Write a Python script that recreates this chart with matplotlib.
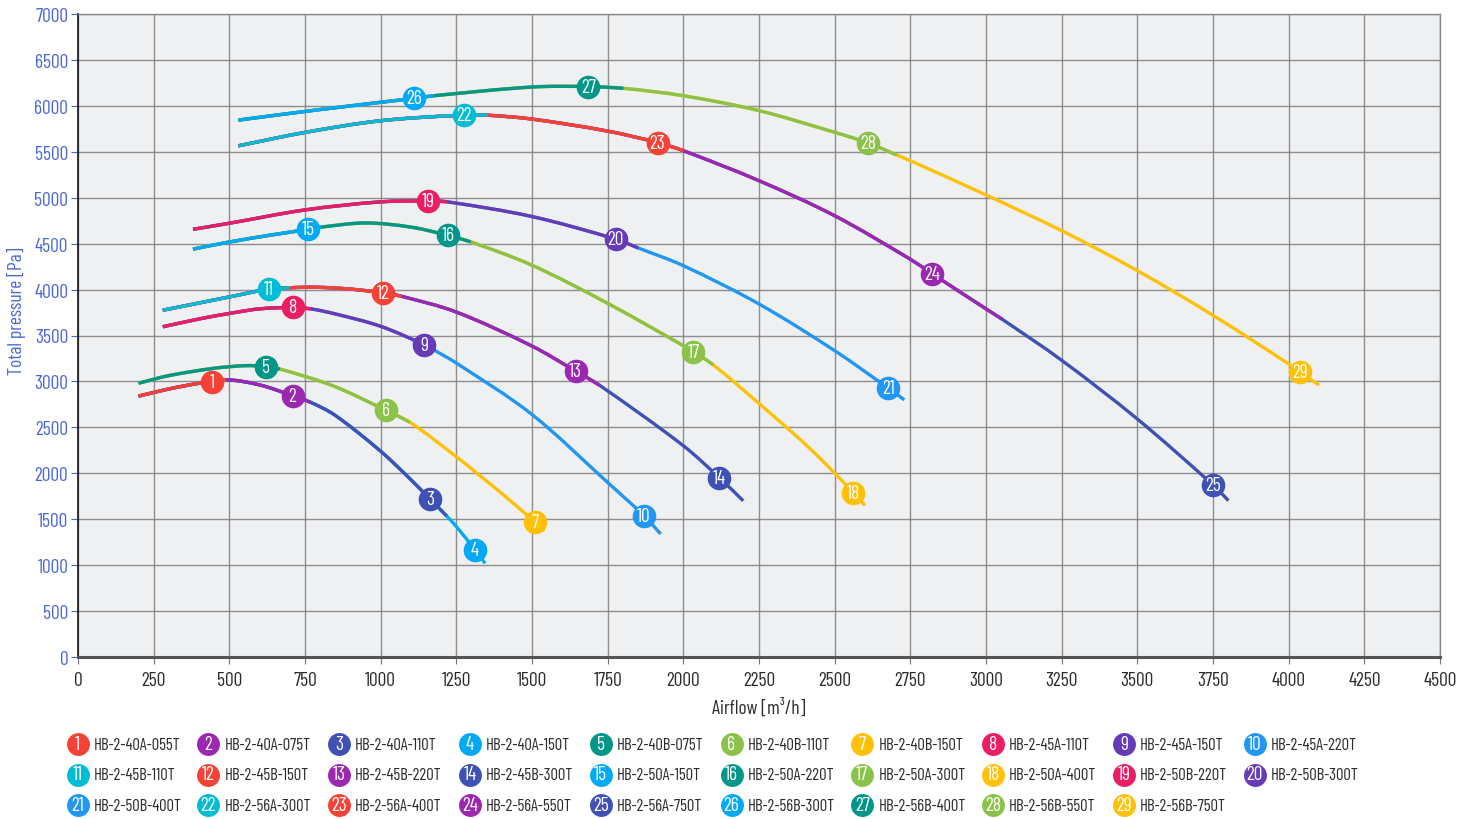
import os
import numpy as np
import matplotlib
matplotlib.use("Agg")
import matplotlib.pyplot as plt
from matplotlib import font_manager
from matplotlib.font_manager import FontProperties
from matplotlib.path import Path
from matplotlib.patches import PathPatch

# ---------------- data ----------------
flow_40A = [200, 300, 400, 490, 600, 709, 767, 850, 1000, 1100, 1163, 1218, 1250, 1311, 1345]
pres_40A = [2840, 2918, 2980, 3018, 2962, 2845, 2775, 2630, 2240, 1930, 1720, 1535, 1420, 1170, 1020]

flow_40B = [200, 300, 450, 557, 620, 667, 844, 1018, 1097, 1250, 1400, 1510, 1540]
pres_40B = [2980, 3063, 3143, 3172, 3160, 3135, 2950, 2685, 2555, 2180, 1780, 1466, 1370]

flow_45A = [280, 400, 500, 600, 711, 769, 850, 1000, 1144, 1180, 1250, 1500, 1750, 1870, 1925]
pres_45A = [3595, 3680, 3740, 3790, 3805, 3790, 3735, 3600, 3400, 3335, 3200, 2640, 1900, 1538, 1339]

flow_45B = [280, 400, 500, 630, 699, 790, 900, 1008, 1070, 1250, 1500, 1644, 1725, 2000, 2119, 2198]
pres_45B = [3775, 3854, 3920, 4005, 4020, 4025, 4005, 3965, 3926, 3755, 3385, 3113, 2954, 2300, 1952, 1700]

flow_50A = [380, 500, 650, 760, 803, 950, 1100, 1222, 1297, 1500, 1750, 2033, 2099, 2250, 2418, 2562, 2600]
pres_50A = [4440, 4518, 4600, 4655, 4680, 4725, 4680, 4590, 4520, 4265, 3850, 3325, 3180, 2760, 2270, 1790, 1650]

flow_50B = [380, 500, 750, 1000, 1158, 1221, 1500, 1776, 1851, 2000, 2250, 2500, 2677, 2730]
pres_50B = [4656, 4722, 4867, 4955, 4965, 4955, 4795, 4550, 4453, 4260, 3843, 3335, 2927, 2800]

flow_56A = [530, 750, 1000, 1274, 1354, 1500, 1750, 1915, 2000, 2250, 2500, 2750, 2823, 3000, 3052, 3250, 3500, 3751, 3801]
pres_56A = [5565, 5711, 5838, 5900, 5898, 5856, 5725, 5600, 5512, 5185, 4804, 4330, 4170, 3790, 3680, 3230, 2591, 1870, 1702]

flow_56B = [530, 800, 1111, 1175, 1500, 1686, 1802, 2000, 2250, 2500, 2611, 2705, 2750, 3000, 3250, 3500, 3750, 4000, 4037, 4101]
pres_56B = [5845, 5960, 6082, 6110, 6205, 6210, 6191, 6110, 5948, 5712, 5596, 5465, 5403, 5030, 4641, 4206, 3720, 3190, 3100, 2960]

model_names = [
    "HB-2-40A-055T", "HB-2-40A-075T", "HB-2-40A-110T", "HB-2-40A-150T",
    "HB-2-40B-075T", "HB-2-40B-110T", "HB-2-40B-150T",
    "HB-2-45A-110T", "HB-2-45A-150T", "HB-2-45A-220T",
    "HB-2-45B-110T", "HB-2-45B-150T", "HB-2-45B-220T", "HB-2-45B-300T",
    "HB-2-50A-150T", "HB-2-50A-220T", "HB-2-50A-300T", "HB-2-50A-400T",
    "HB-2-50B-220T", "HB-2-50B-300T", "HB-2-50B-400T",
    "HB-2-56A-300T", "HB-2-56A-400T", "HB-2-56A-550T", "HB-2-56A-750T",
    "HB-2-56B-300T", "HB-2-56B-400T", "HB-2-56B-550T", "HB-2-56B-750T",
]
model_family = ["40A"] * 4 + ["40B"] * 3 + ["45A"] * 3 + ["45B"] * 4 + ["50A"] * 4 + \
               ["50B"] * 3 + ["56A"] * 4 + ["56B"] * 4
model_end_flow = [490, 767, 1218, 1345,
                  667, 1097, 1540,
                  769, 1180, 1925,
                  699, 1070, 1725, 2198,
                  803, 1297, 2099, 2600,
                  1221, 1851, 2730,
                  1354, 2000, 3052, 3801,
                  1175, 1802, 2705, 4101]
model_mark_flow = [443, 709, 1163, 1311,
                   620, 1018, 1510,
                   711, 1144, 1870,
                   630, 1008, 1644, 2119,
                   760, 1222, 2033, 2562,
                   1158, 1776, 2677,
                   1274, 1915, 2823, 3751,
                   1111, 1686, 2611, 4037]

x_ticks = list(range(0, 4501, 250))
y_ticks = list(range(0, 7001, 500))

families = {
    "40A": (flow_40A, pres_40A), "40B": (flow_40B, pres_40B),
    "45A": (flow_45A, pres_45A), "45B": (flow_45B, pres_45B),
    "50A": (flow_50A, pres_50A), "50B": (flow_50B, pres_50B),
    "56A": (flow_56A, pres_56A), "56B": (flow_56B, pres_56B),
}

palette = ["#F44336", "#9C27B0", "#3F51B5", "#03A9F4", "#009688", "#8BC34A",
           "#FFC107", "#E91E63", "#673AB7", "#2196F3", "#00BCD4"]


# ---------------- font: prefer a condensed face ----------------
def pick_font():
    best, best_score = None, 99
    for f in font_manager.fontManager.ttflist:
        base = os.path.basename(f.fname).lower()
        if f.style != "normal":
            continue
        if any(k in base for k in ("bold", "italic", "oblique", "light", "thin", "black", "medium", "semibold", "extra")):
            continue
        st = str(f.stretch).lower()
        nm = f.name
        score = 99
        if nm in ("Roboto Condensed", "Barlow Condensed", "Barlow Semi Condensed"):
            score = 0
        elif nm == "Liberation Sans Narrow" or "narrow" in base:
            score = 1
        elif "condensed" in nm.lower() or "condensed" in base or "condensed" in st:
            score = 2 if "semicondensed" not in base.replace("-", "") else 3
        elif nm == "Roboto":
            score = 5
        if score < best_score:
            best, best_score = f.fname, score
    return best


fpath = pick_font()
if fpath:
    FP = lambda size: FontProperties(fname=fpath, size=size)
else:
    FP = lambda size: FontProperties(family="DejaVu Sans", size=size)

W, H = 1479, 820
fig = plt.figure(figsize=(W / 100, H / 100), dpi=100)
fig.patch.set_facecolor("white")
renderer = fig.canvas.get_renderer()


def size_for(text, target_px, max_size):
    t = fig.text(0, 0, text, fontproperties=FP(10))
    w = t.get_window_extent(renderer).width
    t.remove()
    return min(max_size, 10 * target_px / w)


tick_size = size_for("1000", 34, 14)
leg_size = size_for("HB-2-40A-055T", 91, 12)
num_size = size_for("22", 17.5, 14)
lab_size = size_for("Airflow [m³/h]", 99, 14)
ylab_size = size_for("Total pressure [Pa]", 133, 14)

ax = fig.add_axes([78 / W, 1 - 658 / H, (1440 - 78) / W, (658 - 15) / H])
ax.set_facecolor("#eff0f2")
ax.set_xlim(0, 4500)
ax.set_ylim(0, 7000)
ax.set_xticks(x_ticks)
ax.set_yticks(y_ticks)
ax.grid(True, color="#7d7d7d", lw=1.0, alpha=0.85)
ax.set_axisbelow(True)
for s in ["top", "right"]:
    ax.spines[s].set_color("#8a8a8a")
    ax.spines[s].set_linewidth(1.0)
ax.spines["left"].set_color("#222222")
ax.spines["left"].set_linewidth(1.3)
ax.spines["bottom"].set_color("#555555")
ax.spines["bottom"].set_linewidth(2.2)
ax.tick_params(axis="x", colors="#777777", labelcolor="#2a2a2a", length=5, pad=5)
ax.tick_params(axis="y", colors="#4a66d8", labelcolor="#4a66d8", length=5, pad=2)
for lab in ax.get_xticklabels() + ax.get_yticklabels():
    lab.set_fontproperties(FP(tick_size))

ax.set_xlabel("Airflow [m³/h]", fontproperties=FP(lab_size), color="#2a2a2a", labelpad=6)
ax.set_ylabel("Total pressure [Pa]", fontproperties=FP(ylab_size), color="#4a66d8")
ax.yaxis.set_label_coords(-0.0385, 0.54)


def smooth_path(xs, ys):
    """Cubic Hermite path (monotone in x) through the read points."""
    xs = np.asarray(xs, float)
    ys = np.asarray(ys, float)
    n = len(xs)
    m = np.zeros(n)
    for k in range(n):
        a = max(k - 1, 0)
        b = min(k + 1, n - 1)
        m[k] = (ys[b] - ys[a]) / (xs[b] - xs[a])
    verts = [(xs[0], ys[0])]
    codes = [Path.MOVETO]
    for k in range(n - 1):
        d = xs[k + 1] - xs[k]
        verts += [(xs[k] + d / 3, ys[k] + m[k] * d / 3),
                  (xs[k + 1] - d / 3, ys[k + 1] - m[k + 1] * d / 3),
                  (xs[k + 1], ys[k + 1])]
        codes += [Path.CURVE4] * 3
    return Path(verts, codes)


# curves: higher-numbered motors first, lower numbers drawn on top
N = len(model_names)
for i in reversed(range(N)):
    fx, fy = families[model_family[i]]
    fx = np.asarray(fx)
    fy = np.asarray(fy)
    sel = fx <= model_end_flow[i]
    patch = PathPatch(smooth_path(fx[sel], fy[sel]), fill=False, edgecolor=palette[i % 11],
                      lw=2.4, capstyle="butt", joinstyle="round", zorder=3 + (N - i) * 0.01)
    ax.add_patch(patch)

# numbered markers
for i in range(N):
    fx, fy = families[model_family[i]]
    mx = model_mark_flow[i]
    my = float(np.interp(mx, fx, fy))
    ax.plot([mx], [my], "o", ms=17, color=palette[i % 11], mec="none", zorder=10)
    ax.text(mx, my, str(i + 1), ha="center", va="center", color="white",
            fontproperties=FP(num_size), zorder=11)

# legend (3 rows x 10 columns)
lax = fig.add_axes([0, 0, 1, 1])
lax.set_xlim(0, W)
lax.set_ylim(H, 0)
lax.axis("off")
lax.patch.set_alpha(0)
for i, name in enumerate(model_names):
    r, c = divmod(i, 10)
    cx = 77.5 + c * 130.8
    cy = 745 + r * 30.5
    lax.plot([cx], [cy], "o", ms=16.5, color=palette[i % 11], mec="none")
    lax.text(cx, cy, str(i + 1), ha="center", va="center", color="white",
             fontproperties=FP(num_size))
    lax.text(cx + 16, cy + 0.5, name, ha="left", va="center", color="#2a2a2a",
             fontproperties=FP(leg_size))

fig.savefig("out.png", dpi=100)
